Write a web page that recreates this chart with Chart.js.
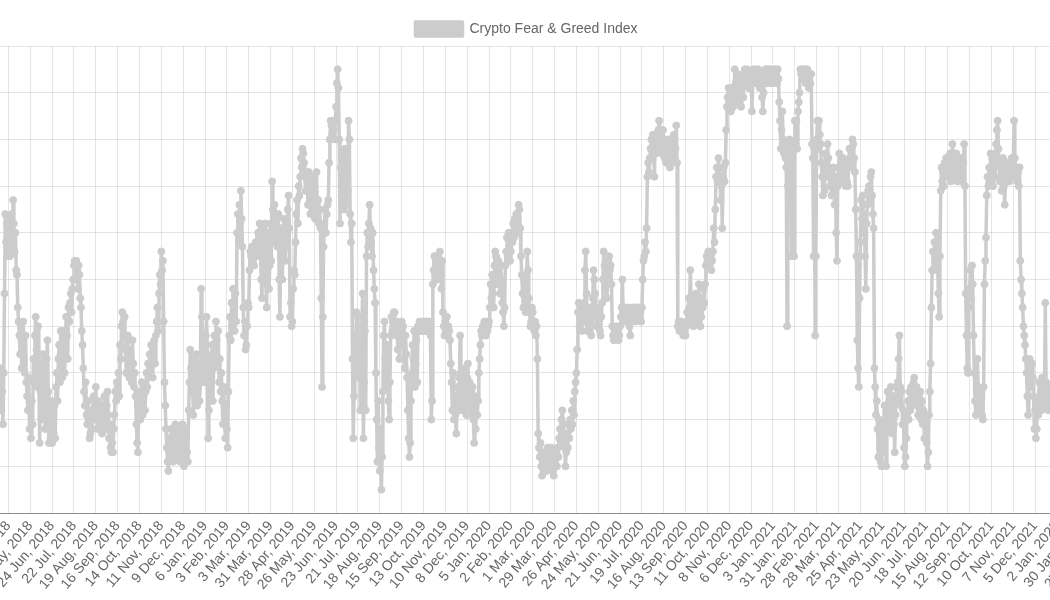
<!DOCTYPE html>
<html>
<head>
<meta charset="utf-8">
<title>Crypto Fear &amp; Greed Index</title>
<script src="https://cdn.jsdelivr.net/npm/chart.js@4.4.1/dist/chart.umd.min.js"></script>
<style>
    html, body { margin: 0; padding: 0; width: 1050px; height: 600px; overflow: hidden; background: #fff; }
    #wrap { position: absolute; left: -125px; top: 6px; width: 1300px; height: 590px; }
</style>
</head>
<body>
<div id="wrap"><canvas id="fngChart"></canvas></div>
<script>
// first plotted day and the day the 4-weekly ticks are counted from
const seriesStart = Date.UTC(2018, 3, 17);
const tickAnchor = Date.UTC(2018, 3, 29);
const tickStepDays = 28;
const monthNames = ['Jan', 'Feb', 'Mar', 'Apr', 'May', 'Jun', 'Jul', 'Aug', 'Sep', 'Oct', 'Nov', 'Dec'];
const yTickStep = 10;

// daily index values, one row per 4-week block (row comment = block start)
const fearGreed = [
    28, 24, 31, 22, 26, 19, 30, 47, 64, 58, 62, 55,
    /* 29 Apr 2018 */ 58, 63, 55, 61, 64, 57, 67, 62, 56, 60, 52, 51, 44, 41, 38, 34, 40, 31, 36, 41, 33, 30, 38, 28, 25, 22, 29, 18,
    /* 27 May 2018 */ 22, 16, 24, 19, 33, 28, 38, 42, 35, 27, 40, 31, 15, 26, 20, 30, 34, 24, 28, 18, 22, 33, 37, 26, 15, 20, 16, 24,
    /* 24 Jun 2018 */ 15, 21, 17, 23, 16, 27, 30, 24, 33, 36, 28, 39, 34, 29, 37, 39, 30, 35, 42, 38, 33, 44, 41, 45, 47, 43, 48, 50,
    /* 22 Jul 2018 */ 53, 54, 50, 54, 52, 48, 53, 51, 46, 44, 39, 36, 31, 26, 23, 28, 21, 19, 24, 20, 16, 17, 22, 18, 21, 25, 20, 23,
    /* 19 Aug 2018 */ 27, 22, 18, 24, 20, 19, 23, 21, 17, 22, 19, 25, 20, 18, 23, 26, 21, 16, 19, 14, 13, 15, 13, 18, 21, 26, 24, 28,
    /* 16 Sep 2018 */ 27, 30, 25, 36, 33, 40, 43, 41, 38, 42, 35, 30, 37, 38, 33, 29, 35, 31, 28, 37, 32, 27, 30, 25, 19, 15, 13, 22,
    /* 14 Oct 2018 */ 26, 20, 24, 28, 21, 25, 27, 22, 26, 30, 27, 32, 29, 34, 31, 36, 33, 29, 35, 37, 32, 38, 41, 44, 39, 47, 51, 49,
    /* 11 Nov 2018 */ 56, 52, 54, 41, 28, 23, 18, 14, 11, 9, 13, 16, 12, 18, 15, 11, 17, 14, 19, 12, 16, 13, 18, 15, 11, 17, 14, 19,
    /*  9 Dec 2018 */ 14, 10, 16, 12, 18, 13, 11, 22, 28, 35, 31, 26, 30, 21, 33, 25, 29, 34, 23, 27, 32, 24, 29, 48, 42, 37, 33, 28,
    /*  6 Jan 2019 */ 30, 38, 42, 34, 16, 22, 27, 33, 29, 36, 24, 31, 38, 35, 41, 37, 32, 39, 28, 33, 26, 30, 24, 19, 27, 21, 16, 23,
    /*  3 Feb 2019 */ 18, 14, 26, 38, 42, 37, 45, 40, 48, 44, 39, 47, 41, 60, 64, 58, 66, 62, 69, 63, 57, 44, 38, 41, 35, 36, 40, 45,
    /*  3 Mar 2019 */ 44, 52, 56, 55, 57, 54, 56, 53, 57, 58, 55, 56, 60, 59, 62, 57, 50, 46, 58, 61, 55, 62, 49, 44, 56, 60, 48, 53,
    /* 31 Mar 2019 */ 62, 54, 71, 65, 60, 66, 58, 63, 60, 57, 64, 50, 42, 58, 61, 50, 56, 63, 59, 54, 62, 57, 65, 68, 61, 42, 45, 40,
    /* 28 Apr 2019 */ 41, 48, 52, 51, 58, 64, 67, 62, 70, 68, 72, 76, 74, 78, 77, 75, 72, 69, 73, 71, 66, 73, 69, 64, 71, 67, 72, 70,
    /* 26 May 2019 */ 66, 63, 65, 73, 64, 67, 62, 65, 61, 46, 27, 42, 57, 62, 65, 60, 64, 66, 67, 75, 80, 84, 83, 81, 84, 82, 80, 84,
    /* 23 Jun 2019 */ 87, 92, 95, 91, 80, 62, 74, 68, 77, 70, 65, 78, 72, 66, 75, 69, 84, 80, 64, 58, 62, 33, 16, 25, 38, 30, 43, 35,
    /* 21 Jul 2019 */ 42, 29, 36, 22, 31, 40, 47, 16, 28, 39, 22, 55, 60, 57, 62, 66, 61, 58, 55, 60, 52, 48, 45, 30, 20, 11, 24, 14,
    /* 18 Aug 2019 */ 9, 18, 5, 12, 26, 38, 41, 33, 27, 36, 31, 24, 20, 28, 38, 42, 39, 41, 43, 43, 40, 38, 41, 35, 39, 33, 40, 37,
    /* 15 Sep 2019 */ 41, 36, 40, 33, 31, 38, 34, 29, 22, 16, 12, 15, 24, 30, 36, 33, 39, 27, 32, 37, 28, 40, 39, 41, 40, 39, 41, 40,
    /* 13 Oct 2019 */ 39, 41, 40, 39, 41, 40, 39, 41, 40, 38, 20, 24, 49, 52, 55, 51, 54, 50, 53, 55, 52, 56, 51, 48, 54, 43, 40, 38,
    /* 10 Nov 2019 */ 41, 39, 42, 38, 40, 39, 37, 32, 28, 22, 30, 20, 25, 21, 17, 23, 27, 22, 29, 38, 30, 25, 22, 28, 24, 31, 26, 21,
    /*  8 Dec 2019 */ 29, 32, 24, 28, 21, 26, 23, 27, 20, 15, 22, 18, 25, 21, 24, 30, 33, 36, 39, 38, 40, 39, 41, 40, 38, 41, 39, 40,
    /*  5 Jan 2020 */ 41, 44, 49, 46, 51, 47, 44, 53, 56, 55, 52, 49, 54, 51, 47, 53, 50, 45, 43, 40, 44, 53, 56, 59, 55, 60, 57, 54,
    /*  2 Feb 2020 */ 56, 60, 58, 62, 59, 63, 61, 64, 60, 63, 66, 65, 61, 55, 51, 47, 44, 50, 46, 43, 48, 56, 52, 46, 43, 40, 41, 44,
    /*  1 Mar 2020 */ 43, 40, 39, 41, 38, 40, 33, 17, 14, 12, 15, 10, 8, 11, 9, 13, 10, 12, 9, 14, 11, 13, 10, 12, 14, 11, 9, 8,
    /* 29 Mar 2020 */ 11, 13, 12, 10, 14, 12, 16, 18, 15, 20, 22, 19, 17, 14, 10, 13, 17, 14, 19, 16, 20, 18, 22, 19, 24, 21, 26, 28,
    /* 26 Apr 2020 */ 30, 35, 43, 45, 40, 42, 44, 39, 43, 41, 45, 52, 56, 47, 39, 43, 40, 44, 41, 38, 42, 46, 52, 50, 47, 44, 40, 43,
    /* 24 May 2020 */ 41, 44, 39, 38, 42, 45, 50, 56, 53, 48, 51, 46, 49, 54, 55, 52, 53, 49, 40, 38, 37, 39, 38, 40, 38, 39, 37, 38,
    /* 21 Jun 2020 */ 40, 42, 44, 50, 43, 41, 42, 44, 41, 43, 44, 42, 40, 38, 41, 43, 44, 42, 44, 43, 41, 44, 43, 44, 42, 44, 43, 41,
    /* 19 Jul 2020 */ 44, 50, 54, 55, 58, 56, 61, 72, 75, 73, 76, 78, 80, 76, 81, 78, 72, 79, 77, 80, 78, 82, 84, 81, 79, 77, 80, 82,
    /* 16 Aug 2020 */ 79, 76, 80, 75, 78, 76, 80, 77, 74, 78, 75, 77, 79, 81, 76, 78, 83, 75, 40, 41, 39, 41, 40, 41, 39, 38, 40, 39,
    /* 13 Sep 2020 */ 38, 40, 43, 41, 46, 44, 52, 46, 41, 43, 40, 44, 42, 47, 44, 41, 45, 49, 43, 40, 42, 46, 44, 48, 45, 49, 53, 55,
    /* 11 Oct 2020 */ 54, 56, 53, 55, 56, 52, 54, 56, 61, 58, 65, 72, 74, 71, 76, 74, 72, 67, 70, 61, 72, 74, 71, 75, 82, 87, 89, 91,
    /*  8 Nov 2020 */ 88, 90, 86, 89, 91, 87, 90, 95, 92, 89, 94, 91, 88, 93, 90, 87, 92, 94, 89, 93, 95, 94, 92, 95, 93, 91, 94, 92,
    /*  6 Dec 2020 */ 94, 86, 92, 95, 94, 93, 95, 94, 92, 95, 93, 91, 94, 92, 89, 86, 90, 93, 95, 94, 95, 92, 94, 95, 93, 95, 94, 92,
    /*  3 Jan 2021 */ 94, 95, 93, 95, 94, 92, 95, 93, 88, 84, 78, 82, 86, 80, 77, 79, 76, 74, 40, 70, 78, 80, 74, 78, 55, 76, 79, 55,
    /* 31 Jan 2021 */ 84, 80, 84, 78, 86, 88, 90, 95, 94, 95, 93, 95, 94, 95, 92, 94, 95, 93, 91, 94, 92, 94, 79, 76, 55, 78, 38, 55,
    /* 28 Feb 2021 */ 80, 84, 78, 84, 81, 79, 75, 72, 68, 74, 69, 77, 75, 72, 79, 76, 74, 70, 73, 68, 71, 74, 70, 66, 72, 60, 54, 70,
    /* 28 Mar 2021 */ 74, 77, 72, 75, 71, 74, 76, 73, 72, 70, 74, 71, 70, 75, 78, 76, 74, 78, 80, 79, 76, 73, 65, 55, 37, 31, 27, 46,
    /* 25 Apr 2021 */ 58, 67, 63, 68, 60, 64, 55, 48, 62, 66, 69, 70, 67, 72, 73, 68, 64, 61, 31, 27, 21, 24, 18, 12, 20, 14, 11, 10,
    /* 23 May 2021 */ 15, 19, 13, 23, 17, 10, 21, 26, 18, 24, 20, 27, 22, 17, 25, 19, 13, 21, 27, 24, 28, 33, 38, 27, 23, 26, 19, 22,
    /* 20 Jun 2021 */ 14, 10, 12, 16, 21, 24, 20, 26, 22, 27, 23, 25, 28, 29, 26, 24, 27, 23, 21, 25, 22, 26, 20, 24, 19, 22, 16, 21,
    /* 18 Jul 2021 */ 19, 15, 10, 13, 21, 26, 32, 44, 52, 56, 52, 58, 54, 60, 57, 53, 47, 42, 55, 69, 74, 71, 73, 70, 75, 72, 76, 74,
    /* 15 Aug 2021 */ 72, 75, 73, 77, 71, 74, 79, 76, 73, 75, 72, 77, 74, 71, 75, 73, 76, 72, 74, 71, 75, 79, 70, 47, 38, 31, 30, 44,
    /* 12 Sep 2021 */ 48, 52, 46, 53, 49, 38, 30, 24, 21, 26, 33, 27, 23, 26, 22, 25, 21, 20, 27, 49, 54, 59, 68, 72, 70, 74, 71, 77,
    /* 10 Oct 2021 */ 73, 76, 70, 74, 77, 72, 79, 82, 84, 78, 75, 71, 74, 69, 72, 76, 70, 66, 71, 74, 72, 75, 73, 71, 74, 72, 76, 73,
    /*  7 Nov 2021 */ 75, 84, 76, 72, 74, 71, 73, 70, 74, 54, 50, 47, 44, 40, 38, 36, 33, 30, 25, 21, 28, 33, 31, 27, 32, 29, 25, 18,
    /*  5 Dec 2021 */ 22, 16, 18, 24, 21, 28, 23, 25, 22, 29, 24, 27, 25, 45, 28, 23, 26, 22, 27, 24
];

const DAY_MS = 86400000;
const firstDay = Math.round((seriesStart - tickAnchor) / DAY_MS);
const points = fearGreed.map((v, i) => ({ x: firstDay + i, y: v }));

// where the visible part of the plot has to land in the 1050x600 frame
const view = { tickX: 8.3, pxPerDay: 21.89 / tickStepDays, top: 46, bottom: 513, legendCenter: 526 };
const xMin = -4 * tickStepDays;

function tickLabel(value) {
    const d = new Date(tickAnchor + value * DAY_MS);
    return `${d.getUTCDate()} ${monthNames[d.getUTCMonth()]}, ${d.getUTCFullYear()}`;
}

Chart.defaults.font.family = "Arial, 'Liberation Sans', Helvetica, sans-serif";
Chart.defaults.font.size = 14;
Chart.defaults.color = '#666';

const gridColor = 'rgba(0, 0, 0, 0.1)';
const lineGray = 'rgb(204, 204, 204)';

const chart = new Chart(document.getElementById('fngChart'), {
    type: 'line',
    data: {
        datasets: [{
            label: 'Crypto Fear & Greed Index',
            data: points,
            borderColor: lineGray,
            backgroundColor: lineGray,
            pointBackgroundColor: lineGray,
            pointBorderColor: lineGray,
            borderWidth: 3.5,
            borderJoinStyle: 'round',
            pointRadius: 3.5,
            pointBorderWidth: 1,
            fill: false,
            tension: 0
        }]
    },
    options: {
        responsive: true,
        maintainAspectRatio: false,
        animation: false,
        devicePixelRatio: 1,
        plugins: {
            legend: {
                display: true,
                position: 'top',
                labels: { boxWidth: 47, boxHeight: 14, padding: 12 }
            },
            tooltip: { enabled: false }
        },
        scales: {
            x: {
                type: 'linear',
                bounds: 'data',
                min: xMin,
                max: 1400,
                grid: { color: gridColor, drawTicks: false },
                border: { color: 'rgba(0, 0, 0, 0.25)' },
                ticks: {
                    stepSize: tickStepDays,
                    includeBounds: false,
                    autoSkip: false,
                    minRotation: 50,
                    maxRotation: 50,
                    padding: 5,
                    callback: (value) => tickLabel(value)
                }
            },
            y: {
                min: 0,
                max: 100,
                grid: { color: (ctx) => (ctx.tick && ctx.tick.value === 0 ? 'rgba(0, 0, 0, 0.25)' : gridColor) },
                ticks: { stepSize: yTickStep }
            }
        }
    }
});

// slide/size the canvas so the visible window matches the frame
const wrap = document.getElementById('wrap');
function fitView() {
    const area = chart.chartArea;
    const w = wrap.clientWidth, h = wrap.clientHeight;
    const extra = w - (area.right - area.left);
    const left = view.tickX - area.left + xMin * view.pxPerDay;
    const newW = 2 * (view.legendCenter - left);
    const newTop = view.top - area.top;
    const newH = view.bottom - newTop + (h - area.bottom);
    chart.options.scales.x.max = xMin + (newW - extra) / view.pxPerDay;
    wrap.style.left = left + 'px';
    wrap.style.top = newTop + 'px';
    wrap.style.width = Math.round(newW) + 'px';
    wrap.style.height = Math.round(newH) + 'px';
    chart.resize();
    chart.update();
}
fitView();
fitView();
</script>
</body>
</html>
